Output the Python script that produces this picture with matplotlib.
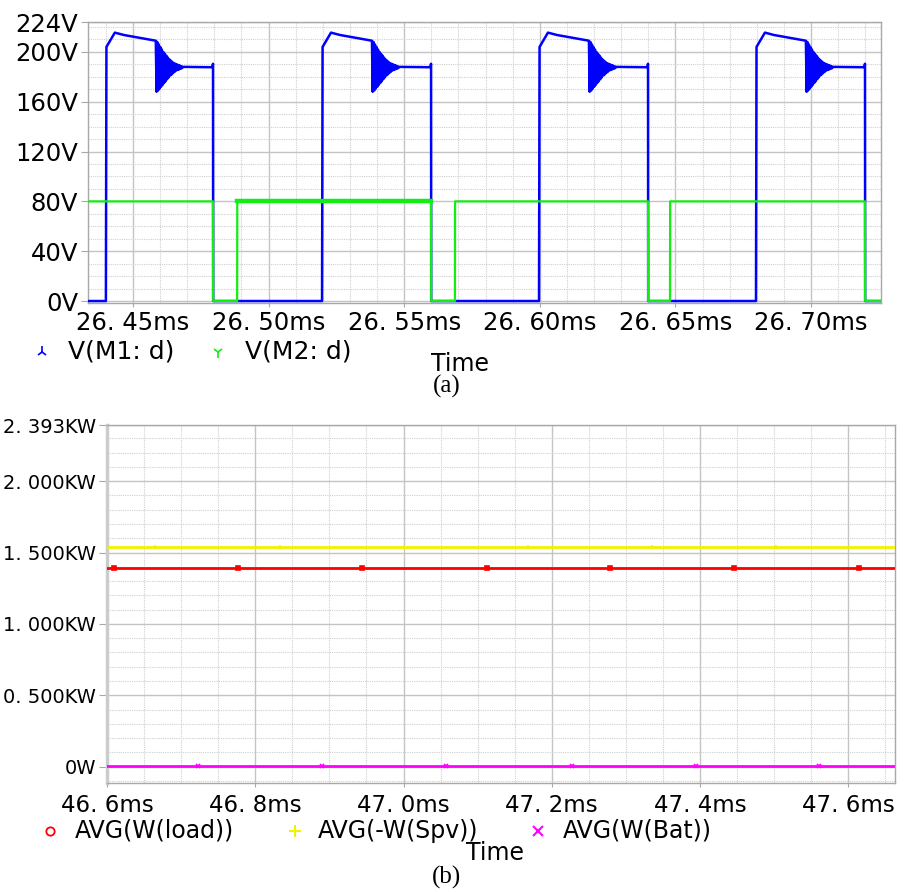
"""
Switch drain voltages (a) and average powers (b)
"""

import numpy as np
import matplotlib.pyplot as plt
from matplotlib.lines import Line2D
from matplotlib.ticker import MultipleLocator

# -----------------------------------------------------------------------------
# (a) data : drain voltages of M1 / M2 (time in ms, volts)
# -----------------------------------------------------------------------------
T_START, T_END = 26.4334, 26.7258

m1_rise = [26.4400, 26.5197, 26.5997, 26.6797]
m1_fall = [26.4795, 26.5599, 26.6399, 26.7199]
# shape of one M1 pulse after the rising edge (offset ms, V)
pulse_dt = [0.0, 0.0002, 0.0033, 0.0066, 0.0184]
pulse_v = [0.0, 204.0, 215.5, 213.6, 209.0]
# damped ringing after turn-off of M2 (upper / lower swings)
ring_lo = [168, 169, 170.5, 172, 173.5, 175, 176.5, 178, 179.5, 181, 182,
           183, 184, 185, 185.5, 186, 186.5, 187]
ring_hi = [208, 206, 204, 202, 200, 198.5, 197, 195.5, 194, 193, 192,
           191, 190.5, 190, 189.5, 189, 188.5, 188]
RING_END = 0.0284
SETTLE_V = 187.7
FALL_PEAK_V = 190.5

m2_fall = [26.4795, 26.5599, 26.6399, 26.7199]
m2_rise = [26.4884, 26.5687, 26.6480]
M2_HIGH = 80.0

v_ticks = [0, 40, 80, 120, 160, 200, 224]
v_labels = ["0V", "40V", "80V", "120V", "160V", "200V", "224V"]
ta_ticks = [26.45, 26.50, 26.55, 26.60, 26.65, 26.70]
ta_labels = ["26. 45ms", "26. 50ms", "26. 55ms", "26. 60ms", "26. 65ms", "26. 70ms"]

# -----------------------------------------------------------------------------
# (b) data : average powers (time in ms, kW)
# -----------------------------------------------------------------------------
TB_START, TB_END = 46.6, 47.663
LOAD_KW = 1.394
SPV_KW = 1.538
BAT_KW = 0.004
load_mark_t = [46.610, 46.777, 46.944, 47.112, 47.279, 47.446, 47.615]
spv_mark_t = [46.665, 46.833, 47.000, 47.168, 47.335, 47.503]
bat_mark_t = [46.723, 46.890, 47.057, 47.227, 47.394, 47.561]

p_ticks = [0, 0.5, 1.0, 1.5, 2.0, 2.393]
p_labels = ["0W", "0. 500KW", "1. 000KW", "1. 500KW", "2. 000KW", "2. 393KW"]
tb_ticks = [46.6, 46.8, 47.0, 47.2, 47.4, 47.6]
tb_labels = ["46. 6ms", "46. 8ms", "47. 0ms", "47. 2ms", "47. 4ms", "47. 6ms"]

BLUE, GREEN = "#0000ff", "#11ee11"
RED, YELLOW, MAGENTA = "#ff0000", "#f2f200", "#ff00ff"
FRAME = "#a8a8a8"

# -----------------------------------------------------------------------------
# build the step traces
# -----------------------------------------------------------------------------
t1, v1 = [T_START], [0.0]
for r, f in zip(m1_rise, m1_fall):
    t1 += [r + d for d in pulse_dt]
    v1 += pulse_v
    ring_v = []
    for lo, hi in zip(ring_lo, ring_hi):
        ring_v += [lo, hi]
    ring_t = np.linspace(r + pulse_dt[-1], r + RING_END, len(ring_v) + 1)[1:]
    t1 += list(ring_t) + [f - 0.0003, f, f + 0.00005]
    v1 += ring_v + [SETTLE_V, FALL_PEAK_V, 0.0]
t1.append(T_END)
v1.append(0.0)

t2, v2 = [T_START], [M2_HIGH]
for i, f in enumerate(m2_fall):
    t2 += [f, f + 0.00005]
    v2 += [M2_HIGH, 0.0]
    if i < len(m2_rise):
        t2 += [m2_rise[i], m2_rise[i] + 0.00005]
        v2 += [0.0, M2_HIGH]
t2.append(T_END)
v2.append(v2[-1])


def style_axes(ax, major_len, minor_x, minor_y):
    ax.xaxis.set_minor_locator(MultipleLocator(minor_x))
    ax.yaxis.set_minor_locator(MultipleLocator(minor_y))
    ax.grid(True, which="major", color="#c4c4c4", lw=1.0)
    ax.grid(True, which="minor", color="#cfcfcf", lw=0.8, ls=(0, (1, 1)))
    ax.set_axisbelow(True)
    for sp in ax.spines.values():
        sp.set_color(FRAME)
        sp.set_linewidth(1.0)
    ax.tick_params(which="minor", length=0)
    ax.tick_params(which="major", color=FRAME, length=major_len)


fig = plt.figure(figsize=(9.09, 8.92), dpi=100)

# ============================================================
# (a)
# ============================================================
ax1 = fig.add_axes([0.0968, 0.6603, 0.8724, 0.3150])
ax1.plot(t1, v1, color=BLUE, lw=1.8, zorder=3)
ax1.plot(t2, v2, color=GREEN, lw=1.6, zorder=4)
ax1.plot([m2_rise[0], m2_fall[1]], [M2_HIGH, M2_HIGH], color=GREEN, lw=3.2, zorder=4)
ax1.set_xlim(T_START, T_END)
ax1.set_ylim(-1.6, 224)
ax1.set_yticks(v_ticks)
ax1.set_yticklabels(v_labels, fontsize=17.5)
ax1.set_xticks(ta_ticks)
ax1.set_xticklabels(ta_labels, fontsize=17.5)
style_axes(ax1, 5, 0.01, 10)
ax1.tick_params(axis="y", pad=2)
ax1.tick_params(axis="x", length=3, pad=3)

# legend row (a)
fig.add_artist(Line2D([0.0462], [0.6054], marker="2", color=BLUE, ms=8, mew=1.2, ls="none"))
fig.text(0.0748, 0.6054, "V(M1: d)", fontsize=18, va="center", ha="left")
fig.add_artist(Line2D([0.2398], [0.6054], marker="1", color=GREEN, ms=8, mew=1.2, ls="none"))
fig.text(0.2695, 0.6054, "V(M2: d)", fontsize=18, va="center", ha="left")
fig.text(0.506, 0.592, "Time", fontsize=17, va="center", ha="center")
fig.text(0.4917, 0.5673, "(a)", fontsize=18, family="Liberation Serif", va="center", ha="center")

# ============================================================
# (b)
# ============================================================
ax2 = fig.add_axes([0.1177, 0.1222, 0.8669, 0.4013])
for val, mark_t, col, mk in [
    (LOAD_KW, load_mark_t, RED, "s"),
    (SPV_KW, spv_mark_t, YELLOW, "+"),
    (BAT_KW, bat_mark_t, MAGENTA, "x"),
]:
    ax2.plot([TB_START, TB_END], [val, val], color=col, lw=2.0, zorder=3)
    ax2.plot(mark_t, [val] * len(mark_t), ls="none", marker=mk, color=col,
             ms=3.5, mew=1.2, zorder=4)
ax2.set_xlim(TB_START, TB_END)
ax2.set_ylim(-0.114, 2.393)
ax2.set_yticks(p_ticks)
ax2.set_yticklabels(p_labels, fontsize=14)
ax2.set_xticks(tb_ticks)
ax2.set_xticklabels(tb_labels, fontsize=16.5)
style_axes(ax2, 6, 0.05, 0.1)
ax2.spines["left"].set_linewidth(2.5)
ax2.spines["left"].set_color("#cccccc")
ax2.tick_params(axis="y", pad=2)
ax2.tick_params(axis="x", length=3, pad=5)

# legend row (b)
fig.add_artist(Line2D([0.055], [0.0684], marker="o", mfc="none", color=RED, ms=6, mew=1.3, ls="none"))
fig.text(0.0825, 0.0684, "AVG(W(load))", fontsize=17, va="center", ha="left")
fig.add_artist(Line2D([0.3245], [0.0684], marker="+", color=YELLOW, ms=8, mew=1.5, ls="none"))
fig.text(0.3498, 0.0684, "AVG(-W(Spv))", fontsize=17, va="center", ha="left")
fig.add_artist(Line2D([0.5919], [0.0684], marker="x", color=MAGENTA, ms=6.5, mew=1.5, ls="none"))
fig.text(0.6194, 0.0684, "AVG(W(Bat))", fontsize=17, va="center", ha="left")
fig.text(0.5446, 0.0437, "Time", fontsize=17, va="center", ha="center")
fig.text(0.4917, 0.0168, "(b)", fontsize=18, family="Liberation Serif", va="center", ha="center")

fig.savefig("out.png", dpi=100)
